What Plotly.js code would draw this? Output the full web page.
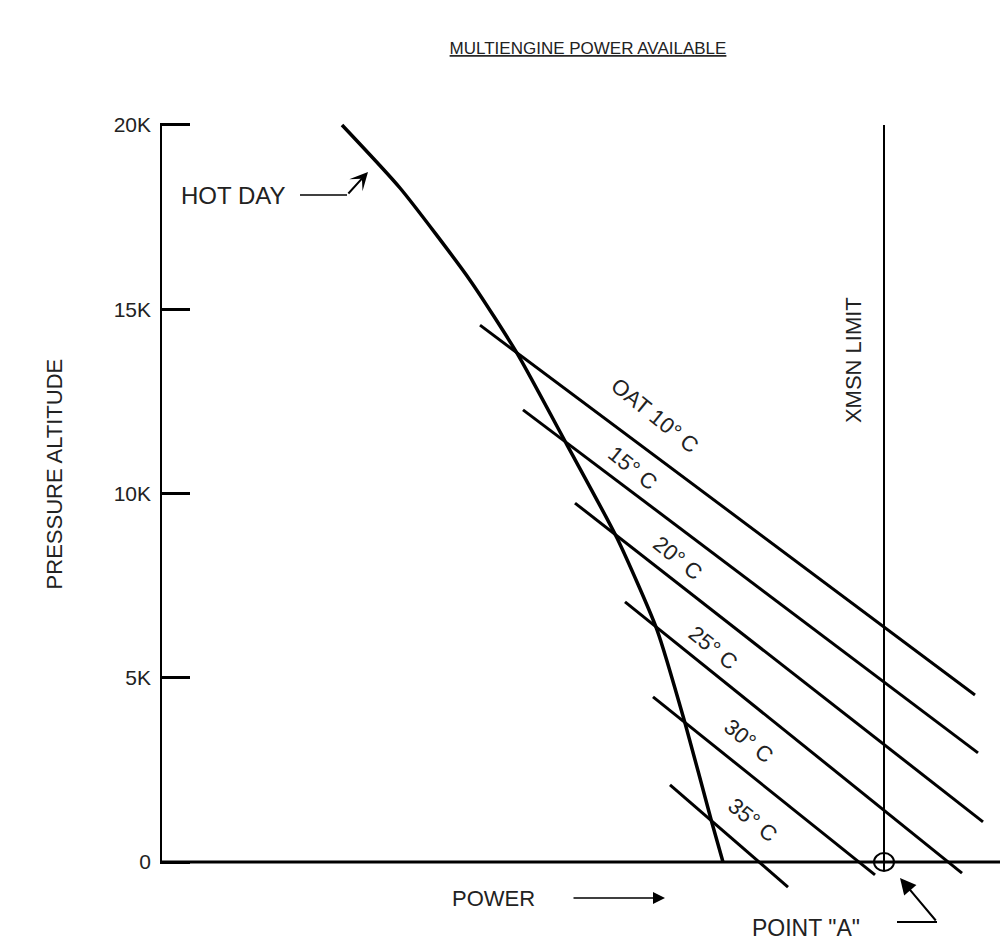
<!DOCTYPE html>
<html>
<head>
<meta charset="utf-8">
<script src="https://cdn.plot.ly/plotly-3.0.1.min.js"></script>
<style>html,body{margin:0;padding:0;background:#fff;}</style>
</head>
<body>
<div id="chart" style="width:1000px;height:943px;"></div>
<script>
// ---- data (power in arbitrary units, altitude in feet) ----
const altTickVals = [0, 5000, 10000, 15000, 20000];
const altTickText = ['0', '5K', '10K', '15K', '20K'];

const hotDayPower = [182, 240, 310, 357, 407, 457, 497, 525, 552, 563];
const hotDayAlt   = [20000, 18290, 15790, 13810, 11320, 8790, 6300, 3770, 1060, 0];

const oatLabels     = ['OAT 10° C', '15° C', '20° C', '25° C', '30° C', '35° C'];
const oatStartPower = [320, 363, 415, 465, 493, 510];
const oatStartAlt   = [14570, 12270, 9740, 7060, 4480, 2090];
const oatEndPower   = [815, 818, 823, 802, 715, 628];
const oatEndAlt     = [4530, 2960, 1090, -300, -350, -680];

const xmsnPower = [724, 724];
const xmsnAlt   = [20000, -230];

// ---- layout helpers ----
const labelPos = [[495,12130],[472,10692],[517,8250],[553,5834],[588,3284],[592,1140]];
const TXT = '#222';
const FONT = 'Liberation Sans, Arial, sans-serif';

const traces = [];
traces.push({x: hotDayPower, y: hotDayAlt, mode: 'lines', line: {color: '#000', width: 3.5, shape: 'spline', smoothing: 0.6}, hoverinfo: 'skip'});
for (let i = 0; i < oatLabels.length; i++) {
  traces.push({x: [oatStartPower[i], oatEndPower[i]], y: [oatStartAlt[i], oatEndAlt[i]], mode: 'lines', line: {color: '#000', width: 3}, hoverinfo: 'skip'});
}
traces.push({x: xmsnPower, y: xmsnAlt, mode: 'lines', line: {color: '#000', width: 2}, hoverinfo: 'skip'});

const annotations = [];
oatLabels.forEach((t, i) => {
  annotations.push({x: labelPos[i][0], y: labelPos[i][1], xref: 'x', yref: 'y', text: t, showarrow: false, textangle: 39, font: {family: FONT, size: 22, color: TXT}});
});
annotations.push({x: 73, y: 18100, xref: 'x', yref: 'y', text: 'HOT DAY', showarrow: false, font: {family: FONT, size: 24, color: TXT}});
annotations.push({x: 693, y: 13620, xref: 'x', yref: 'y', text: 'XMSN LIMIT', showarrow: false, textangle: -90, font: {family: FONT, size: 22, color: TXT}});
annotations.push({x: 333, y: -977, xref: 'x', yref: 'y', text: 'POWER', showarrow: false, font: {family: FONT, size: 22, color: TXT}});
annotations.push({x: 646, y: -1790, xref: 'x', yref: 'y', text: 'POINT "A"', showarrow: false, font: {family: FONT, size: 23, color: TXT}});
annotations.push({x: -0.1429, y: 10530, xref: 'paper', yref: 'y', text: 'PRESSURE ALTITUDE', showarrow: false, textangle: -90, font: {family: FONT, size: 22, color: TXT}});
// arrows
annotations.push({x: 505, y: -977, ax: 412, ay: -977, axref: 'x', ayref: 'y', xref: 'x', yref: 'y', text: '', showarrow: true, arrowhead: 2, arrowsize: 1.6, arrowwidth: 1.5, arrowcolor: '#000'});
annotations.push({x: 740, y: -434, ax: 777, ay: -1628, axref: 'x', ayref: 'y', xref: 'x', yref: 'y', text: '', showarrow: true, arrowhead: 2, arrowsize: 1.6, arrowwidth: 2, arrowcolor: '#000'});
annotations.push({x: 208, y: 18725, ax: 187, ay: 18100, axref: 'x', ayref: 'y', xref: 'x', yref: 'y', text: '', showarrow: true, arrowhead: 3, arrowsize: 1.5, arrowwidth: 2, arrowcolor: '#000'});

const shapes = [
  {type: 'line', xref: 'x', yref: 'y', x0: 0, x1: 0, y0: 0, y1: 20000, line: {color: '#000', width: 4}},
  {type: 'line', xref: 'x', yref: 'y', x0: 0, x1: 840, y0: 0, y1: 0, line: {color: '#000', width: 3}},
  {type: 'circle', xref: 'x', yref: 'y', xsizemode: 'pixel', ysizemode: 'pixel', xanchor: 724, yanchor: 0, x0: -10, x1: 10, y0: -9, y1: 9, line: {color: '#000', width: 2}},
  {type: 'line', xref: 'x', yref: 'y', x0: 140, x1: 187, y0: 18100, y1: 18100, line: {color: '#000', width: 1.5}},
  {type: 'line', xref: 'x', yref: 'y', x0: 737, x1: 777, y0: -1628, y1: -1628, line: {color: '#000', width: 2}}
];

const layout = {
  width: 1000, height: 943,
  margin: {l: 160, r: 0, t: 100, b: 0},
  paper_bgcolor: '#fff', plot_bgcolor: '#fff',
  showlegend: false,
  title: {text: '<u>MULTIENGINE POWER AVAILABLE</u>', x: 0.588, xref: 'container', y: 0.949, yref: 'container', xanchor: 'center', yanchor: 'middle',
          font: {family: FONT, size: 17, color: TXT}},
  xaxis: {range: [0, 840], visible: false, fixedrange: true},
  yaxis: {range: [-2198, 20678], showgrid: false, zeroline: false, showline: false,
          ticks: 'inside', ticklen: 30, tickwidth: 3, tickcolor: '#000',
          tickmode: 'array', tickvals: altTickVals, ticktext: altTickText,
          ticklabelstandoff: 8,
          tickfont: {family: FONT, size: 21, color: TXT}, fixedrange: true},
  annotations: annotations,
  shapes: shapes
};

Plotly.newPlot('chart', traces, layout, {displayModeBar: false, staticPlot: true});
</script>
</body>
</html>
